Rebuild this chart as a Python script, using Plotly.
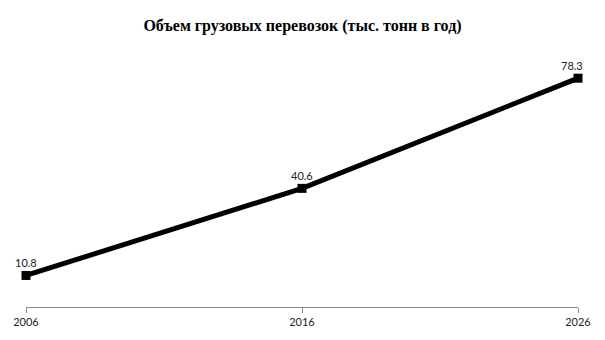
import plotly.graph_objects as go

years = [2006, 2016, 2026]
values = [10.8, 40.6, 78.3]
labels = ["10.8", "40.6", "78.3"]
title = "Объем грузовых перевозок (тыс. тонн в год)"

label_xshift = [0, 0, -6]

fig = go.Figure(go.Scatter(
    x=years, y=values, mode="lines+markers",
    line=dict(color="black", width=5),
    marker=dict(symbol="square", size=9, color="black"),
    cliponaxis=False, hoverinfo="skip",
))

for x, y, t, dx in zip(years, values, labels, label_xshift):
    fig.add_annotation(x=x, y=y, text=t, showarrow=False, yshift=13, xshift=dx,
                       yanchor="middle", xanchor="center",
                       font=dict(family="Lato", size=11, color="#222"))

fig.update_layout(
    width=605, height=340,
    margin=dict(l=26, r=27, t=44, b=28),
    paper_bgcolor="white", plot_bgcolor="white",
    showlegend=False,
    title=dict(text="<b>" + title + "</b>", x=0.5, xanchor="center", y=0.925, yanchor="middle",
               font=dict(family="Liberation Serif", size=16, color="black")),
    xaxis=dict(range=[2006, 2026], tickvals=years, ticktext=[str(y) for y in years],
               showgrid=False, zeroline=False, showline=True, linecolor="#888", linewidth=1,
               ticks="outside", ticklen=5, tickcolor="#888",
               tickfont=dict(family="Lato", size=11, color="#222")),
    yaxis=dict(range=[0, 90], visible=False, showgrid=False, zeroline=False),
)

fig.write_html("out.html")
